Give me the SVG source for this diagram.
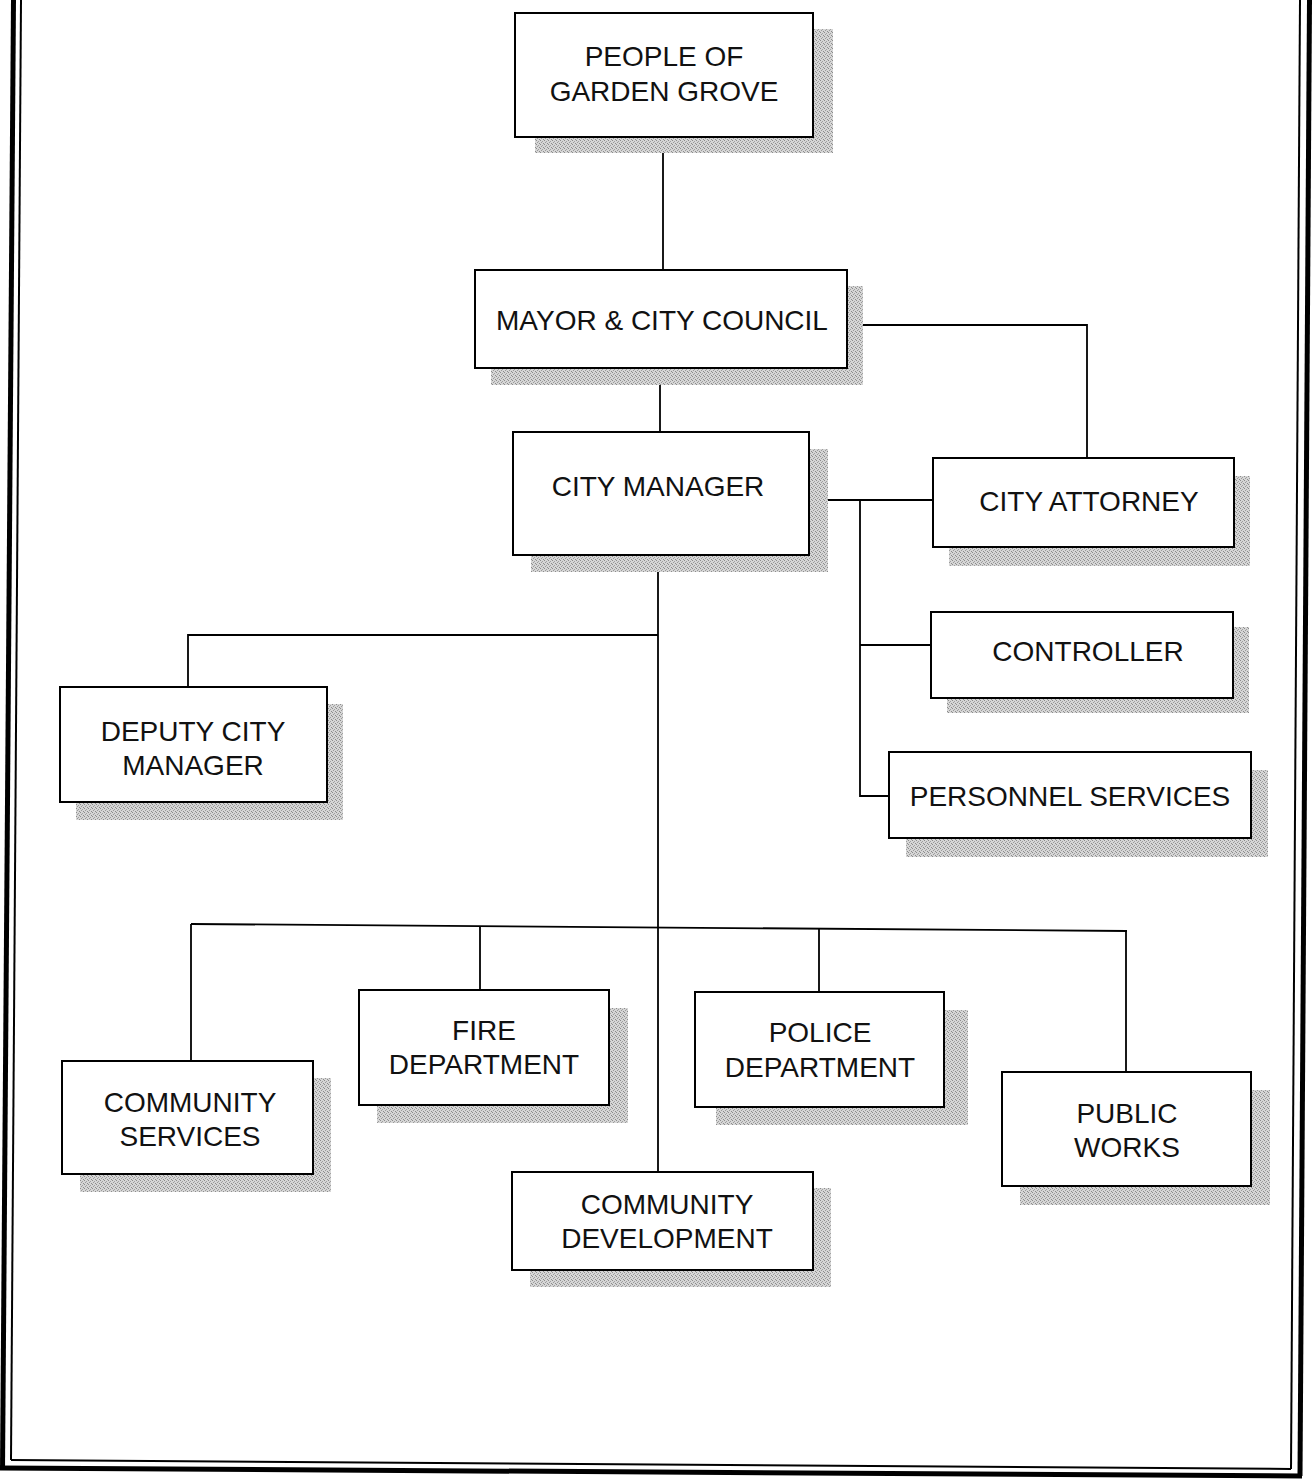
<svg xmlns="http://www.w3.org/2000/svg" width="1314" height="1480" viewBox="0 0 1314 1480">
<defs>
<pattern id="dots" width="4" height="4" patternUnits="userSpaceOnUse">
<rect width="4" height="4" fill="#d6d6d6"/>
<rect x="0" y="0" width="1" height="1" fill="#8c8c8c"/>
<rect x="2" y="1" width="1" height="1" fill="#a0a0a0"/>
<rect x="1" y="2" width="1" height="1" fill="#9a9a9a"/>
<rect x="3" y="3" width="1" height="1" fill="#8c8c8c"/>
</pattern>
</defs>
<style>
.box{fill:#fff;stroke:#000;stroke-width:2}
.sh{fill:url(#dots)}
.t{font-family:"Liberation Sans",Arial,sans-serif;font-size:28px;fill:#111;text-anchor:middle}
.c{stroke:#000;stroke-width:1.8;fill:none}
.frame{stroke:#000;fill:none}
</style>
<rect width="1314" height="1480" fill="#fff"/>
<g id="frame">
<line class="frame" x1="13.5" y1="0" x2="2.5" y2="1470" stroke-width="5"/>
<line class="frame" x1="21" y1="0" x2="11" y2="1460" stroke-width="2"/>
<line class="frame" x1="11" y1="1460" x2="1291" y2="1469" stroke-width="2"/>
<line class="frame" x1="0" y1="1468" x2="1302" y2="1476" stroke-width="5"/>
<line class="frame" x1="1300" y1="0" x2="1291" y2="1469" stroke-width="2"/>
<line class="frame" x1="1309.5" y1="0" x2="1300" y2="1476" stroke-width="5"/>
</g>
<g id="connectors">
<line class="c" x1="663" y1="137" x2="663" y2="270"/>
<polyline class="c" points="863,325 1087,325 1087,458"/>
<line class="c" x1="660" y1="385" x2="660" y2="432"/>
<line class="c" x1="828" y1="500" x2="933" y2="500"/>
<polyline class="c" points="860,500 860,796 889,796"/>
<line class="c" x1="860" y1="645" x2="931" y2="645"/>
<line class="c" x1="658" y1="572" x2="658" y2="1172"/>
<polyline class="c" points="658,635 188,635 188,687"/>
<line class="c" x1="191" y1="924" x2="1127" y2="931"/>
<line class="c" x1="191" y1="924" x2="191" y2="1061"/>
<line class="c" x1="480" y1="926" x2="480" y2="990"/>
<line class="c" x1="819" y1="929" x2="819" y2="992"/>
<line class="c" x1="1126" y1="931" x2="1126" y2="1072"/>
</g>
<g id="people">
<rect class="sh" x="535" y="29" width="298" height="124"/>
<rect class="box" x="515" y="13" width="298" height="124"/>
<text class="t" x="664" y="66">PEOPLE OF</text>
<text class="t" x="664" y="101">GARDEN GROVE</text>
</g>
<g id="mayor">
<rect class="sh" x="491" y="286" width="372" height="99"/>
<rect class="box" x="475" y="270" width="372" height="98"/>
<text class="t" x="662" y="330">MAYOR &amp; CITY COUNCIL</text>
</g>
<g id="city-manager">
<rect class="sh" x="531" y="449" width="297" height="123"/>
<rect class="box" x="513" y="432" width="296" height="123"/>
<text class="t" x="658" y="496">CITY MANAGER</text>
</g>
<g id="city-attorney">
<rect class="sh" x="949" y="476" width="301" height="90"/>
<rect class="box" x="933" y="458" width="301" height="89"/>
<text class="t" x="1089" y="511">CITY ATTORNEY</text>
</g>
<g id="controller">
<rect class="sh" x="947" y="627" width="302" height="86"/>
<rect class="box" x="931" y="612" width="302" height="86"/>
<text class="t" x="1088" y="661">CONTROLLER</text>
</g>
<g id="personnel">
<rect class="sh" x="906" y="770" width="362" height="87"/>
<rect class="box" x="889" y="752" width="362" height="86"/>
<text class="t" x="1070" y="806">PERSONNEL SERVICES</text>
</g>
<g id="deputy">
<rect class="sh" x="76" y="704" width="267" height="116"/>
<rect class="box" x="60" y="687" width="267" height="115"/>
<text class="t" x="193" y="741">DEPUTY CITY</text>
<text class="t" x="193" y="775">MANAGER</text>
</g>
<g id="community-services">
<rect class="sh" x="80" y="1078" width="251" height="114"/>
<rect class="box" x="62" y="1061" width="251" height="113"/>
<text class="t" x="190" y="1112">COMMUNITY</text>
<text class="t" x="190" y="1146">SERVICES</text>
</g>
<g id="fire">
<rect class="sh" x="377" y="1008" width="251" height="115"/>
<rect class="box" x="359" y="990" width="250" height="115"/>
<text class="t" x="484" y="1040">FIRE</text>
<text class="t" x="484" y="1074">DEPARTMENT</text>
</g>
<g id="police">
<rect class="sh" x="716" y="1010" width="252" height="115"/>
<rect class="box" x="695" y="992" width="249" height="115"/>
<text class="t" x="820" y="1042">POLICE</text>
<text class="t" x="820" y="1077">DEPARTMENT</text>
</g>
<g id="public-works">
<rect class="sh" x="1020" y="1090" width="250" height="115"/>
<rect class="box" x="1002" y="1072" width="249" height="114"/>
<text class="t" x="1127" y="1123">PUBLIC</text>
<text class="t" x="1127" y="1157">WORKS</text>
</g>
<g id="community-development">
<rect class="sh" x="530" y="1188" width="301" height="99"/>
<rect class="box" x="512" y="1172" width="301" height="98"/>
<text class="t" x="667" y="1214">COMMUNITY</text>
<text class="t" x="667" y="1248">DEVELOPMENT</text>
</g>
</svg>
